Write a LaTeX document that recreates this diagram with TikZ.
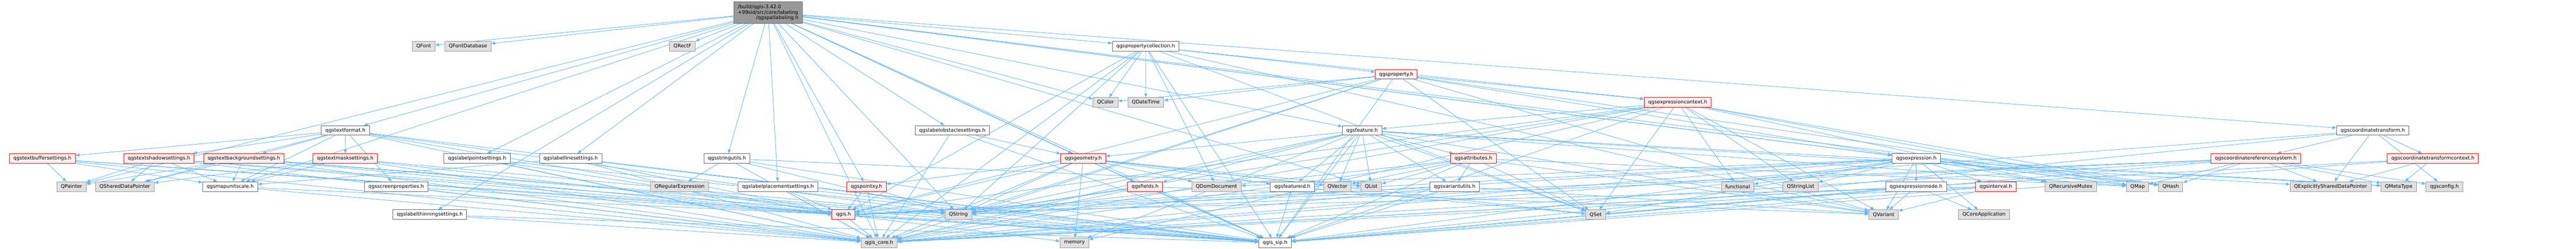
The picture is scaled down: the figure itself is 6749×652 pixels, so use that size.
\documentclass[tikz,border=0pt]{standalone}
\usepackage{fontspec}
\setmainfont{DejaVu Sans}
\usetikzlibrary{arrows.meta,backgrounds}

\definecolor{edgeblue}{HTML}{63B8FF}
\definecolor{darkfill}{HTML}{999999}
\definecolor{framegray}{HTML}{666666}
\definecolor{extfill}{HTML}{E0E0E0}
\definecolor{redfill}{HTML}{FFF0F0}

\begin{document}
\begin{tikzpicture}[x=1bp, y=-1bp,
  every node/.style={font=\fontsize{13bp}{14.6bp}\selectfont, inner xsep=10.5bp, inner ysep=0pt, minimum height=25.5bp, line width=1.3bp},
  hdr/.style={draw=framegray, fill=white},
  redhdr/.style={draw=red, fill=redfill},
  ext/.style={draw=darkfill, fill=extfill},
  mainhdr/.style={draw=framegray, fill=darkfill, text width=159bp, align=left, minimum height=56bp, inner xsep=10bp},
  dep/.style={draw=edgeblue, line width=1.2bp, -{Triangle[length=10bp,width=8bp]}}]
\useasboundingbox (0,0) rectangle (6749,652);

\node[mainhdr] (pallabeling) at (2012.5,33) {/build/qgis-3.42.0\\+99sid/src/core/labeling\\\hspace*{\fill}/qgspallabeling.h\hspace*{\fill}};

\node[ext] (qfont) at (1110,121.2) {QFont};
\node[ext] (qfontdb) at (1226,121.2) {QFontDatabase};
\node[ext] (qrectf) at (1788,121.2) {QRectF};
\node[hdr] (propcoll) at (3001.5,121.2) {qgspropertycollection.h};

\node[redhdr] (prop) at (3658,195) {qgsproperty.h};

\node[ext] (qcolor) at (2896.5,268.5) {QColor};
\node[ext] (qdatetime) at (3002,268.5) {QDateTime};
\node[redhdr] (exprctx) at (4395.4,268.5) {qgsexpressioncontext.h};

\node[hdr] (textformat) at (905,342.2) {qgstextformat.h};
\node[hdr] (obstacle) at (2495,342.2) {qgslabelobstaclesettings.h};
\node[hdr] (feature) at (3568.5,342.2) {qgsfeature.h};
\node[hdr] (ctransform) at (6216.5,342.2) {qgscoordinatetransform.h};

\node[redhdr] (buffer) at (111,415.8) {qgstextbuffersettings.h};
\node[redhdr] (shadow) at (416.5,415.8) {qgstextshadowsettings.h};
\node[redhdr] (background) at (639,415.8) {qgstextbackgroundsettings.h};
\node[redhdr] (mask) at (904.5,415.8) {qgstextmasksettings.h};
\node[hdr] (pointset) at (1250,415.8) {qgslabelpointsettings.h};
\node[hdr] (lineset) at (1495,415.8) {qgslabellinesettings.h};
\node[hdr] (strutils) at (1904.5,415.8) {qgsstringutils.h};
\node[redhdr] (geometry) at (2838,415.8) {qgsgeometry.h};
\node[redhdr] (attributes) at (3860,415.8) {qgsattributes.h};
\node[hdr] (expression) at (5020.5,415.8) {qgsexpression.h};
\node[redhdr] (crs) at (5910,415.8) {qgscoordinatereferencesystem.h};
\node[redhdr] (ctcontext) at (6374,415.8) {qgscoordinatetransformcontext.h};

\node[ext] (qpainter) at (187.3,489.5) {QPainter};
\node[ext] (qshared) at (327,489.5) {QSharedDataPointer};
\node[hdr] (mapunit) at (603,489.5) {qgsmapunitscale.h};
\node[hdr] (screen) at (1038,489.5) {qgsscreenproperties.h};
\node[ext] (qregexp) at (1780.5,489.5) {QRegularExpression};
\node[hdr] (placement) at (2038,489.5) {qgslabelplacementsettings.h};
\node[redhdr] (pointxy) at (2270,489.5) {qgspointxy.h};
\node[redhdr] (fields) at (3000,489.5) {qgsfields.h};
\node[ext] (qdomdoc) at (3187,489.5) {QDomDocument};
\node[hdr] (featureid) at (3386,489.5) {qgsfeatureid.h};
\node[ext] (qvector) at (3504,489.5) {QVector};
\node[ext] (qlist) at (3592.5,489.5) {QList};
\node[hdr] (varutils) at (3811,489.5) {qgsvariantutils.h};
\node[ext] (functional) at (4552.5,489.5) {functional};
\node[ext] (qstrlist) at (4717.5,489.5) {QStringList};
\node[hdr] (exprnode) at (5020,489.5) {qgsexpressionnode.h};
\node[redhdr] (interval) at (5229,489.5) {qgsinterval.h};
\node[ext] (qrecmutex) at (5425.5,489.5) {QRecursiveMutex};
\node[ext] (qmap) at (5600.5,489.5) {QMap};
\node[ext] (qhash) at (5687,489.5) {QHash};
\node[ext] (qexplshared) at (6106,489.5) {QExplicitlySharedDataPointer};
\node[ext] (qmetatype) at (6284.5,489.5) {QMetaType};
\node[ext] (config) at (6404,489.5) {qgsconfig.h};

\node[hdr] (thinning) at (1126,563.3) {qgslabelthinningsettings.h};
\node[redhdr] (qgis) at (2210,563.3) {qgis.h};
\node[ext] (qstring) at (2511,563.3) {QString};
\node[ext] (qset) at (4180.5,563.3) {QSet};
\node[ext] (qvariant) at (4935,563.3) {QVariant};
\node[ext] (qcoreapp) at (5198,563.3) {QCoreApplication};

\node[ext] (core) at (2303,637.2) {qgis\_core.h};
\node[ext] (memory) at (2815,637.2) {memory};
\node[hdr] (sip) at (3340.5,637.2) {qgis\_sip.h};

\begin{scope}[on background layer]
\fill[white] (0,0) rectangle (6749,652);
\foreach \t in {qfont,qfontdb,qrectf,propcoll,qcolor,textformat,obstacle,feature,ctransform,pointset,lineset,strutils,geometry,expression,qpainter,mapunit,placement,pointxy,fields,qlist,qmap,qhash,thinning,qstring,core,sip}
  \draw[dep] (pallabeling) -- (\t);
\foreach \t in {qcolor,qdatetime,prop,exprctx,qdomdoc,qvariant,qset,qstring,qgis,core,sip}
  \draw[dep] (propcoll) -- (\t);
\foreach \t in {qcolor,qdatetime,exprctx,expression,qvariant,qhash,qset,qstring,qgis,core,sip}
  \draw[dep] (prop) -- (\t);
\foreach \t in {feature,qstrlist,qvariant,qset,qhash,qmap,qstring,functional,qrecmutex,memory,qgis,core,sip}
  \draw[dep] (exprctx) -- (\t);
\foreach \t in {buffer,shadow,background,mask,screen,qshared,mapunit,qstring,qgis,core,sip}
  \draw[dep] (textformat) -- (\t);
\foreach \t in {geometry,core,sip}
  \draw[dep] (obstacle) -- (\t);
\foreach \t in {attributes,fields,featureid,geometry,varutils,qlist,qvector,qset,qmap,qvariant,qstring,qexplshared,qmetatype,memory,core,sip}
  \draw[dep] (feature) -- (\t);
\foreach \t in {crs,ctcontext,qexplshared,config,core,sip}
  \draw[dep] (ctransform) -- (\t);
\foreach \t in {qpainter,mapunit,qgis,core,sip}
  \draw[dep] (buffer) -- (\t);
\foreach \t in {qpainter,qshared,mapunit,qgis,core,sip}
  \draw[dep] (shadow) -- (\t);
\foreach \t in {qpainter,qshared,mapunit,qstring,qgis,core,sip}
  \draw[dep] (background) -- (\t);
\foreach \t in {qshared,mapunit,qgis,core,sip}
  \draw[dep] (mask) -- (\t);
\foreach \t in {qgis,core,sip}
  \draw[dep] (pointset) -- (\t);
\foreach \t in {mapunit,qgis,core,sip}
  \draw[dep] (lineset) -- (\t);
\foreach \t in {qregexp,qlist,qstring,core,sip}
  \draw[dep] (strutils) -- (\t);
\foreach \t in {pointxy,qdomdoc,featureid,qvector,qlist,qset,qstring,memory,qgis,core,sip}
  \draw[dep] (geometry) -- (\t);
\foreach \t in {qlist,qvector,varutils,qmap,qset,qvariant,qstring,core,sip}
  \draw[dep] (attributes) -- (\t);
\foreach \t in {exprnode,interval,qrecmutex,qstrlist,functional,qdomdoc,qvariant,qcoreapp,qset,qmetatype,qmap,qhash,qstring,qgis,core,sip}
  \draw[dep] (expression) -- (\t);
\foreach \t in {qexplshared,qmetatype,config,qhash,qmap,qstring,qgis,core,sip}
  \draw[dep] (crs) -- (\t);
\foreach \t in {qexplshared,qmetatype,core,sip}
  \draw[dep] (ctcontext) -- (\t);
\foreach \t in {qgis,core}
  \draw[dep] (mapunit) -- (\t);
\foreach \t in {core,sip}
  \draw[dep] (screen) -- (\t);
\foreach \t in {qgis,core,sip}
  \draw[dep] (placement) -- (\t);
\foreach \t in {qgis,qstring,core}
  \draw[dep] (pointxy) -- (\t);
\foreach \t in {qstring,qvariant,core,sip}
  \draw[dep] (fields) -- (\t);
\foreach \t in {qset,sip}
  \draw[dep] (featureid) -- (\t);
\foreach \t in {qvariant,qgis,core,sip}
  \draw[dep] (varutils) -- (\t);
\foreach \t in {qset,qvariant,qcoreapp,core,sip}
  \draw[dep] (exprnode) -- (\t);
\foreach \t in {qvariant,qgis,core,sip}
  \draw[dep] (interval) -- (\t);
\foreach \t in {core,sip}
  \draw[dep] (thinning) -- (\t);
\foreach \t in {memory,core,sip}
  \draw[dep] (qgis) -- (\t);
\end{scope}
\end{tikzpicture}
\end{document}
